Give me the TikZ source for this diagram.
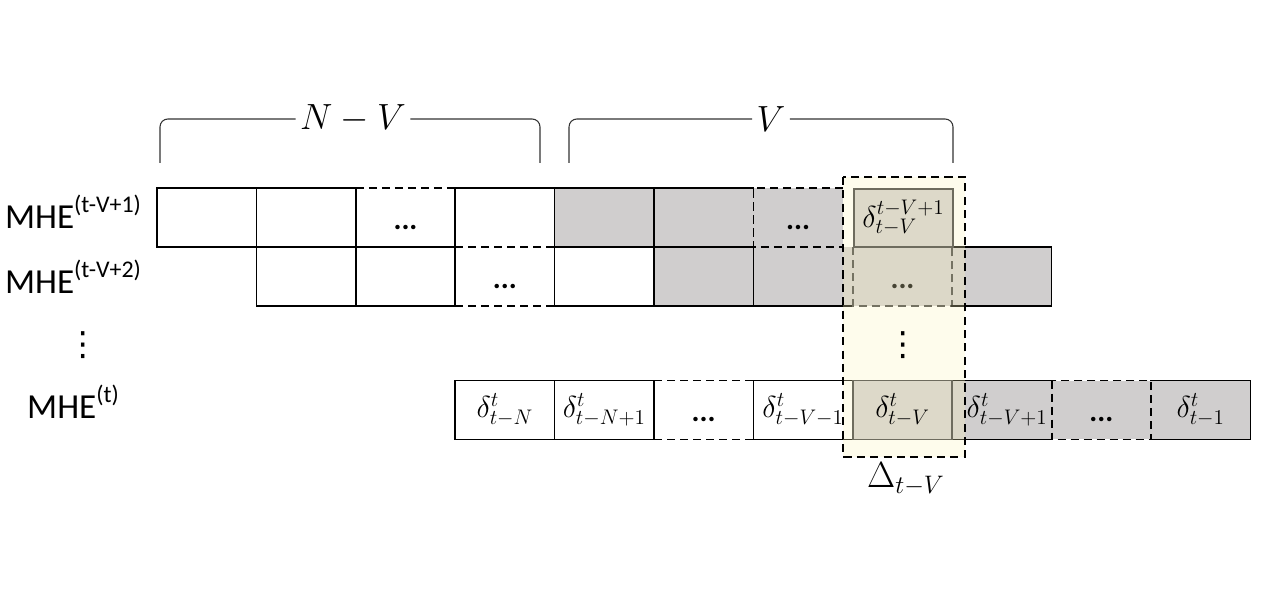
\documentclass[tikz,border=0pt]{standalone}
\usepackage{fontspec}
\setmainfont{Carlito}
\newfontfamily\symfont{DejaVu Sans}
\definecolor{cellgray}{HTML}{D0CECE}
\definecolor{creamover}{HTML}{FEF5BC}
\definecolor{tanfill}{HTML}{DDD9C9}
\definecolor{tanline}{HTML}{6E6C5E}
\newcommand\mhesup[1]{\raisebox{0.45em}{\fontsize{13.6}{16}\selectfont #1}}
\tikzset{
  cellbox/.style={rectangle, minimum width=1.988cm, minimum height=1.18cm, inner sep=0pt, outer sep=0pt, line width=1pt, font=\fontsize{18}{21}\selectfont},
  whitecell/.style={cellbox, draw=none, fill=white},
  graycell/.style={cellbox, draw=none, fill=cellgray},
  tancell/.style={cellbox, draw=tanline, fill=tanfill},
  solidedge/.style={line width=1pt, line cap=rect},
  dashedge/.style={line width=1pt, dash pattern=on 4.6pt off 2.8pt},
  softdash/.style={line width=1pt, draw=black!75, dash pattern=on 4.6pt off 2.8pt},
  dotstext/.style={font=\fontsize{17}{20}\selectfont\bfseries, inner sep=0pt, yshift=-5.5pt},
  mhe/.style={font=\fontsize{20}{24}\selectfont, inner sep=0pt, anchor=base},
  bracelab/.style={font=\fontsize{21}{24}\selectfont, inner sep=2.4pt},
  bracepath/.style={line width=0.6pt, draw=black!80, rounded corners=4.5pt},
  hlbox/.style={rectangle, minimum width=2.44cm, minimum height=5.6cm, inner sep=0pt, outer sep=0pt, draw=none, fill=creamover, fill opacity=0.28},
  hlborder/.style={line width=1.1pt, dash pattern=on 4.6pt off 3pt},
  vdotstext/.style={font=\fontsize{19}{22}\selectfont\symfont, inner sep=0pt}
}
\begin{document}
\begin{tikzpicture}[x=0.02cm,y=-0.02cm]
\useasboundingbox[fill=white] (0,0) rectangle (1270,591);

% braces
\node[bracelab] (nv) at (353,119) {$N-V$};
\draw[bracepath] (160,163) |- (nv.west);
\draw[bracepath] (nv.east) -| (540,163);
\node[bracelab] (vv) at (771,119) {$V$};
\draw[bracepath] (569,163) |- (vv.west);
\draw[bracepath] (vv.east) -| (953,163);

% row labels
\node[mhe] (m1) at (73,228) {MHE\mhesup{(t-V+1)}};
\node[mhe] (m2) at (73,293) {MHE\mhesup{(t-V+2)}};
\node[vdotstext] (m3) at (83,345) {⋮};
\node[mhe] (m4) at (73,418) {MHE\mhesup{(t)}};

% ---------- cell fills ----------
% row 1
\node[whitecell] (a0) at (206.7,217.5) {};
\node[whitecell] (a1) at (306.1,217.5) {};
\node[whitecell] (a2) at (405.5,217.5) {};
\node[whitecell] (a3) at (504.9,217.5) {};
\node[graycell] (a4) at (604.3,217.5) {};
\node[graycell] (a5) at (703.7,217.5) {};
\node[graycell, minimum width=1.792cm] (a6) at (798.2,217.5) {};
% row 2
\node[whitecell] (b1) at (306.1,276.5) {};
\node[whitecell] (b2) at (405.5,276.5) {};
\node[whitecell] (b3) at (504.9,276.5) {};
\node[whitecell] (b4) at (604.3,276.5) {};
\node[graycell] (b5) at (703.7,276.5) {};
\node[graycell] (b6) at (803.1,276.5) {};
\node[graycell] (b7) at (902.5,276.5) {};
\node[graycell] (b8) at (1001.9,276.5) {};
% row 4
\node[whitecell] (c3) at (504.9,410) {$\delta^{t}_{t-N}$};
\node[whitecell] (c4) at (604.3,410) {$\delta^{t}_{t-N+1}$};
\node[whitecell] (c5) at (703.7,410) {};
\node[whitecell] (c6) at (803.1,410) {$\delta^{t}_{t-V-1}$};
\node[graycell] (c8) at (1001.9,410) {\hspace*{6pt}$\delta^{t}_{t-V+1}$};
\node[graycell] (c9) at (1101.3,410) {};
\node[graycell] (c10) at (1200.7,410) {$\delta^{t}_{t-1}$};

% ---------- edges ----------
% row 1
\draw[solidedge] (a0.north west) rectangle (a0.south east);
\draw[solidedge] (a1.north west) rectangle (a1.south east);
\draw[dashedge] (a2.north west) -- (a2.north east);
\draw[solidedge] (a3.south west) -- (a3.north west) -- (a3.north east) -- (a3.south east);
\draw[solidedge] (a4.north west) rectangle (a4.south east);
\draw[solidedge] (a5.north east) -- (a5.north west) -- (a5.south west) -- (a5.south east);
\draw[dashedge] (a6.north east) -- (a6.north west) -- (a6.south west) -- (a6.south east);
% row 2
\draw[solidedge] (b1.north west) rectangle (b1.south east);
\draw[solidedge] (b2.north west) rectangle (b2.south east);
\draw[dashedge] (b3.north west) -- (b3.north east);
\draw[dashedge] (b3.south west) -- (b3.south east);
\draw[solidedge] (b4.north west) rectangle (b4.south east);
\draw[solidedge] (b5.north west) rectangle (b5.south east);
\draw[solidedge] (b6.south west) -- (b6.south east);
\draw[softdash] (b7.north west) -- (b7.south west) -- (b7.south east) -- (b7.north east);
\draw[solidedge] (b8.north west) -- (b8.north east) -- (b8.south east) -- (b8.south west);
% row 4
\draw[solidedge] (c3.north west) rectangle (c3.south east);
\draw[solidedge] (c4.north west) rectangle (c4.south east);
\draw[dashedge] (c5.north west) -- (c5.north east);
\draw[dashedge] (c5.south west) -- (c5.south east);
\draw[solidedge] (c6.north west) rectangle (c6.south east);
\draw[solidedge] (c8.north west) -- (c8.north east);
\draw[solidedge] (c8.south west) -- (c8.south east);
\draw[dashedge] (c9.north west) rectangle (c9.south east);
\draw[solidedge] (c10.north west) -- (c10.north east) -- (c10.south east) -- (c10.south west);

% dots in cells
\node[dotstext] (a2d) at (a2.center) {...};
\node[dotstext] (a6d) at (a6.center) {...};
\node[dotstext] (b3d) at (b3.center) {...};
\node[dotstext] (b7d) at (b7.center) {...};
\node[dotstext] (c5d) at (c5.center) {...};
\node[dotstext] (c9d) at (c9.center) {...};

% highlight overlay
\node[hlbox] (hl) at (904,317) {};

% tan cells on top
\node[tancell, minimum width=1.98cm, minimum height=1.16cm] (a7) at (903.5,218) {$\delta^{t-V+1}_{t-V}$};
\node[tancell] (c7) at (902.5,410) {$\delta^{t}_{t-V}$};
\node[vdotstext] (hd) at (903,345) {⋮};

\draw[hlborder] (hl.north west) rectangle (hl.south east);
\node[bracelab] (dl) at (906,479) {$\Delta_{t-V}$};
\end{tikzpicture}
\end{document}
